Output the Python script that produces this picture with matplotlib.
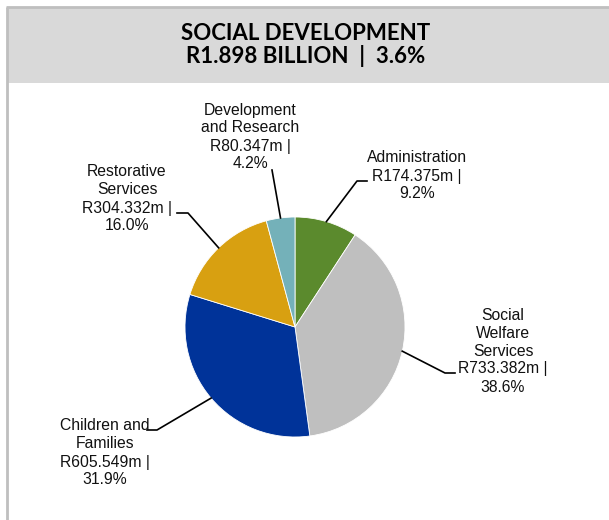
import numpy as np
import matplotlib.pyplot as plt
from matplotlib.patches import Rectangle

W, H = 609, 520

title_lines = ["SOCIAL DEVELOPMENT", "R1.898 BILLION  |  3.6%"]
programmes = [
    "Administration",
    "Social\nWelfare\nServices",
    "Children and\nFamilies",
    "Restorative\nServices",
    "Development\nand Research",
]
budget_m = [174.375, 733.382, 605.549, 304.332, 80.347]
share_pct = [9.2, 38.6, 31.9, 16.0, 4.2]
colors = ["#5b8a2d", "#bfbfbf", "#003399", "#d8a011", "#74b1b9"]

# label centres and leader-line bends, in pixels from the top-left corner
label_pos = [(417, 176), (503, 351), (105, 453), (127, 199), (250, 137)]
leader_bends = [
    [(357, 181), (367, 181)],
    [(445, 373), (455, 373)],
    [(157, 430), (147, 430)],
    [(188, 213), (177, 213)],
    [(272, 170)],
]

PIE_CX, PIE_CY, PIE_R = 295, 327, 110


def Y(y):
    return H - y


fig = plt.figure(figsize=(W / 100, H / 100), dpi=100)
ax = fig.add_axes([0, 0, 1, 1])

ax.pie(
    share_pct,
    colors=colors,
    startangle=90,
    counterclock=False,
    center=(PIE_CX, Y(PIE_CY)),
    radius=PIE_R,
    wedgeprops=dict(edgecolor="white", linewidth=0.6),
)
ax.set_xlim(0, W)
ax.set_ylim(0, H)
ax.set_aspect("equal")
ax.axis("off")

# header band and frame
ax.add_patch(Rectangle((7, Y(83)), W - 7, 76, facecolor="#d9d9d9", edgecolor="none", zorder=0))
ax.plot([7, 7], [0, Y(7)], color="#bfbfbf", lw=2, solid_capstyle="butt")
ax.plot([6, W], [Y(7), Y(7)], color="#bfbfbf", lw=2, solid_capstyle="butt")

ax.text(306, Y(33), title_lines[0], ha="center", va="center",
        fontsize=16, fontweight="bold", family="Lato")
ax.text(306, Y(56), title_lines[1], ha="center", va="center",
        fontsize=16, fontweight="bold", family="Lato")

# leader lines start at each slice's mid-angle on the rim
bounds = np.cumsum([0] + share_pct) / sum(share_pct)
for i, name in enumerate(programmes):
    mid = (bounds[i] + bounds[i + 1]) / 2
    ang = np.deg2rad(90 - 360 * mid)
    ax0 = PIE_CX + PIE_R * np.cos(ang)
    ay0 = PIE_CY - PIE_R * np.sin(ang)
    pts = [(ax0, ay0)] + leader_bends[i]
    ax.plot([p[0] for p in pts], [Y(p[1]) for p in pts], color="black", lw=1.2)

    label = f"{name}\nR{budget_m[i]:.3f}m |\n{share_pct[i]:.1f}%"
    tx, ty = label_pos[i]
    ax.text(tx, Y(ty), label, ha="center", va="center", fontsize=11.3,
            family="Liberation Sans", linespacing=1.25, color="#111111")

fig.savefig("out.png", dpi=100)
